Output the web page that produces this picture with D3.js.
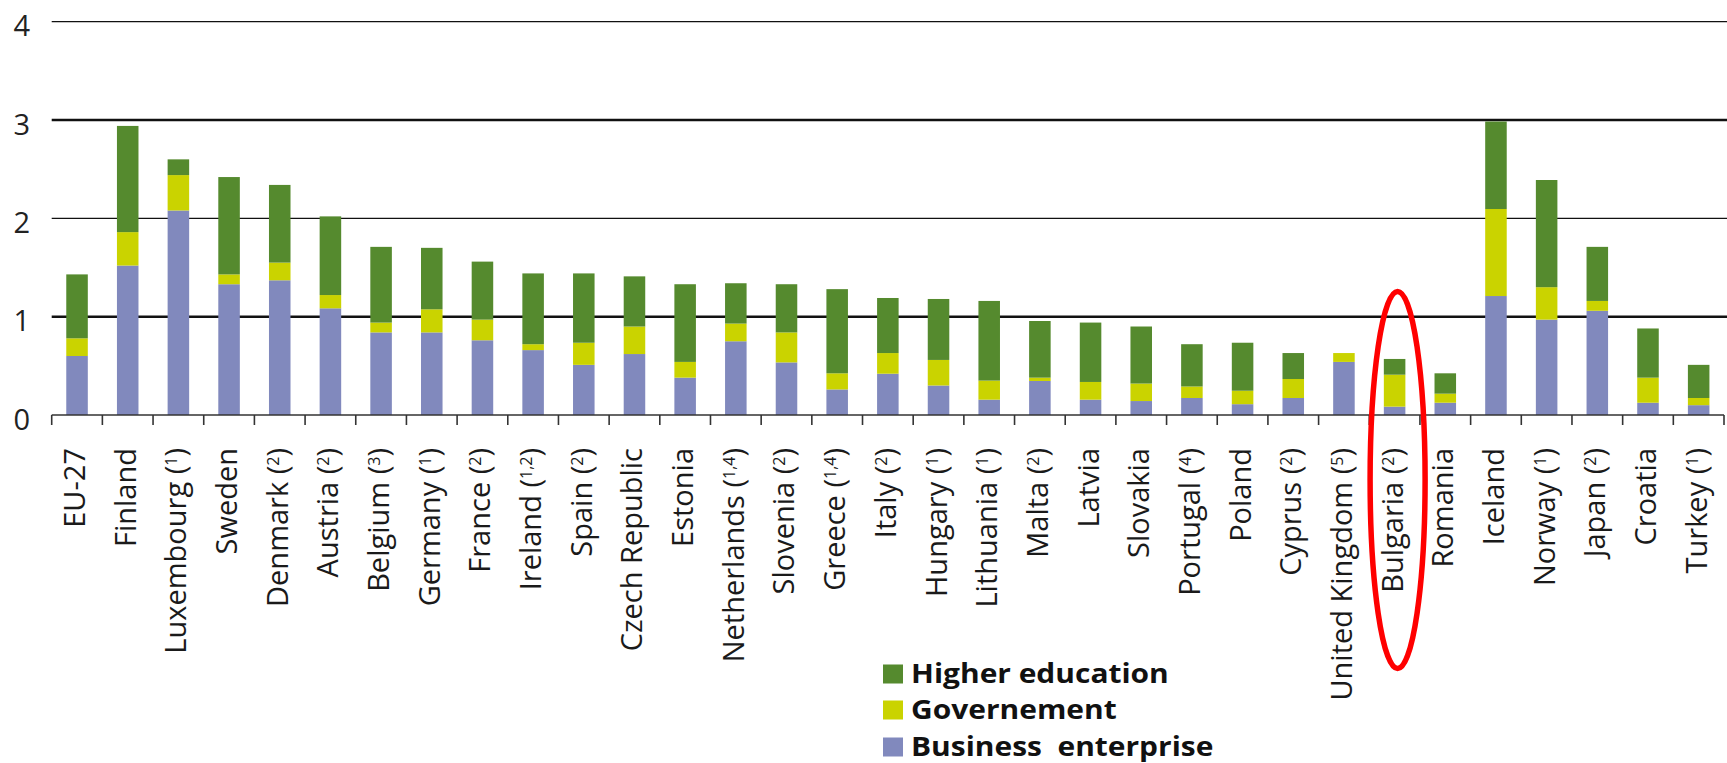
<!DOCTYPE html>
<html>
<head>
<meta charset="utf-8">
<script src="https://cdn.jsdelivr.net/npm/d3@7"></script>
<style>
  html, body { margin: 0; padding: 0; background: #ffffff; }
  svg { display: block; }
  text { font-family: "Open Sans", "Noto Sans", sans-serif; }
</style>
</head>
<body>
<svg id="chart" width="1727" height="763"></svg>
<script>
// R&D expenditure by sector of performance, % of GDP
const categories = ["EU-27","Finland","Luxembourg","Sweden","Denmark","Austria","Belgium","Germany","France","Ireland","Spain","Czech Republic","Estonia","Netherlands","Slovenia","Greece","Italy","Hungary","Lithuania","Malta","Latvia","Slovakia","Portugal","Poland","Cyprus","United Kingdom","Bulgaria","Romania","Iceland","Norway","Japan","Croatia","Turkey"];
const notes = ["","","1","","2","2","3","1","2","1,2","2","","","1,4","2","1,4","2","1","1","2","","","4","","2","5","2","","","1","2","","1"];

const business   = [0.60,1.52,2.08,1.33,1.37,1.085,0.84,0.84,0.76,0.66,0.51,0.62,0.38,0.75,0.535,0.26,0.42,0.30,0.156,0.346,0.156,0.142,0.173,0.11,0.173,0.54,0.085,0.125,1.21,0.97,1.06,0.125,0.10];
const government = [0.18,0.34,0.36,0.10,0.18,0.135,0.10,0.235,0.21,0.06,0.225,0.28,0.16,0.18,0.305,0.164,0.21,0.26,0.194,0.034,0.18,0.178,0.117,0.137,0.193,0.09,0.325,0.092,0.885,0.33,0.10,0.255,0.073];
const higher     = [0.65,1.08,0.16,0.99,0.79,0.80,0.77,0.625,0.59,0.72,0.705,0.51,0.79,0.41,0.49,0.856,0.56,0.62,0.81,0.576,0.604,0.58,0.43,0.488,0.264,0.0,0.16,0.207,0.89,1.09,0.55,0.50,0.337];

const yTicks = [0, 1, 2, 3, 4];
const seriesKeys = ["business", "government", "higher"];
const legendKeys = ["higher", "government", "business"];
const legendLabels = { higher: "Higher education", government: "Governement", business: "Business  enterprise" };
const colors = { business: "#8189bd", government: "#cad300", higher: "#558a2e" };

const rows = categories.map((c, i) => ({
  name: c, note: notes[i],
  business: business[i], government: government[i], higher: higher[i]
}));

const svg = d3.select("#chart");
const plotLeft = 51.7, plotRight = 1724, plotTop = 21.7, plotBottom = 415;

const x = d3.scaleBand()
  .domain(categories)
  .range([plotLeft, plotRight])
  .paddingInner(0.575)
  .paddingOuter(0.2875);

const y = d3.scaleLinear().domain([0, 4]).range([plotBottom, plotTop]);

// horizontal grid lines
svg.append("g").selectAll("line")
  .data(yTicks.filter(t => t > 0))
  .join("line")
  .attr("x1", plotLeft).attr("x2", 1727)
  .attr("y1", d => y(d)).attr("y2", d => y(d))
  .attr("stroke", "#111")
  .attr("stroke-width", d => d % 2 === 1 ? 2.4 : 1.3);

// y tick labels
svg.append("g").selectAll("text")
  .data(yTicks)
  .join("text")
  .attr("x", 30)
  .attr("y", d => y(d))
  .attr("dy", "0.5em")
  .attr("text-anchor", "end")
  .attr("font-size", 29)
  .attr("fill", "#222")
  .text(d => d);

// stacked bars
const stack = d3.stack().keys(seriesKeys);
const layers = stack(rows);

svg.append("g").selectAll("g")
  .data(layers)
  .join("g")
  .attr("fill", d => colors[d.key])
  .selectAll("rect")
  .data(d => d)
  .join("rect")
  .attr("x", d => x(d.data.name))
  .attr("width", x.bandwidth())
  .attr("y", d => y(d[1]))
  .attr("height", d => Math.max(0, y(d[0]) - y(d[1])));

// category axis
const axis = svg.append("g");
axis.append("line")
  .attr("x1", plotLeft).attr("x2", plotRight)
  .attr("y1", y(0)).attr("y2", y(0))
  .attr("stroke", "#333").attr("stroke-width", 1.6);

axis.selectAll("line.tick")
  .data(d3.range(categories.length + 1))
  .join("line")
  .attr("class", "tick")
  .attr("x1", i => plotLeft + i * x.step())
  .attr("x2", i => plotLeft + i * x.step())
  .attr("y1", y(0)).attr("y2", y(0) + 10)
  .attr("stroke", "#333").attr("stroke-width", 1.6);

const labels = axis.selectAll("text.cat")
  .data(rows)
  .join("text")
  .attr("class", "cat")
  .attr("font-size", 29)
  .attr("fill", "#1a1a1a")
  .attr("text-anchor", "end")
  .attr("transform", d => `translate(${x(d.name) + x.bandwidth() / 2 + 8},448) rotate(-90)`);

labels.each(function (d) {
  const t = d3.select(this);
  t.append("tspan").text(d.name);
  if (d.note) {
    t.append("tspan").text("\u00a0(");
    t.append("tspan").attr("font-size", 16).attr("dy", -9).text(d.note);
    t.append("tspan").attr("dy", 9).text(")");
  }
});

// highlight around Bulgaria
svg.append("ellipse")
  .attr("cx", x("Bulgaria") + x.bandwidth() / 2 + 3)
  .attr("cy", 480)
  .attr("rx", 27.5)
  .attr("ry", 188.5)
  .attr("fill", "none")
  .attr("stroke", "#ff0000")
  .attr("stroke-width", 5.5);

// legend (wide bold lettering)
const legend = svg.append("g");
const legendY = [683, 719, 756];
legendKeys.forEach((k, i) => {
  legend.append("rect")
    .attr("x", 883).attr("y", legendY[i] - 18.5)
    .attr("width", 20).attr("height", 19)
    .attr("fill", colors[k]);
  legend.append("text")
    .attr("transform", `translate(911,${legendY[i]}) scale(1.13,1)`)
    .attr("font-size", 26.5)
    .attr("font-weight", 700)
    .attr("fill", "#111")
    .style("white-space", "pre")
    .text(legendLabels[k]);
});
</script>
</body>
</html>
